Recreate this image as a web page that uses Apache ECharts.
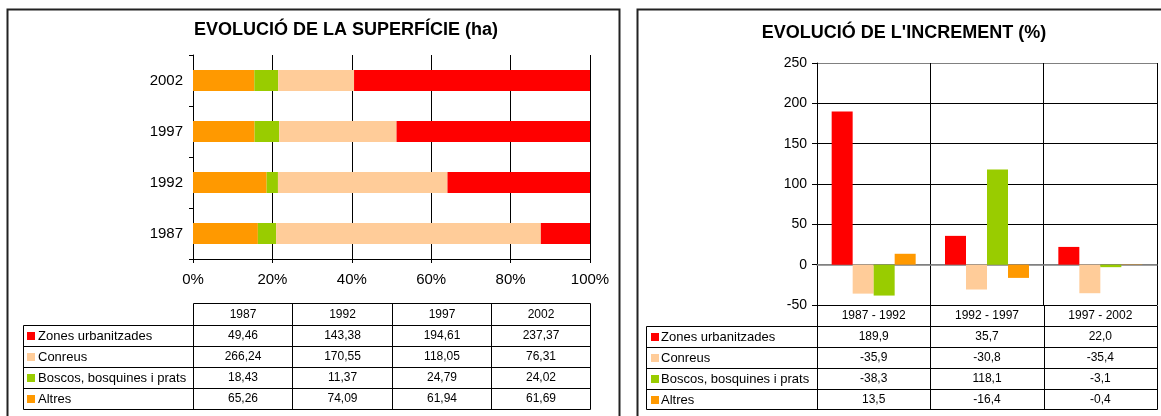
<!DOCTYPE html>
<html><head><meta charset="utf-8">
<script src="https://cdn.jsdelivr.net/npm/echarts@6/dist/echarts.min.js"></script>
<style>html,body{margin:0;padding:0;background:#fff}#c{width:1161px;height:416px}</style>
</head><body><div id="c"></div>
<script>
const years = ['1987', '1992', '1997', '2002'];
const periods = ['1987 - 1992', '1992 - 1997', '1997 - 2002'];
const seriesNames = ['Zones urbanitzades', 'Conreus', 'Boscos, bosquines i prats', 'Altres'];
const colors = ['#FF0000', '#FFCC99', '#99CC00', '#FF9900'];
const zones = [49.46, 143.38, 194.61, 237.37];
const conreus = [266.24, 170.55, 118.05, 76.31];
const boscos = [18.43, 11.37, 24.79, 24.02];
const altres = [65.26, 74.09, 61.94, 61.69];
const incZones = [189.9, 35.7, 22.0];
const incConreus = [-35.9, -30.8, -35.4];
const incBoscos = [-38.3, 118.1, -3.1];
const incAltres = [13.5, -16.4, -0.4];
const titleLeft = 'EVOLUCIÓ DE LA SUPERFÍCIE (ha)';
const titleRight = "EVOLUCIÓ DE L'INCREMENT (%)";

const FONT = '"Liberation Sans", Arial, sans-serif';
const fmt2 = v => v.toFixed(2).replace('.', ',');
const fmt1 = v => v.toFixed(1).replace('.', ',');
const areaRows = [zones, conreus, boscos, altres];
const incRows = [incZones, incConreus, incBoscos, incAltres];
const totals = years.map((_, i) => zones[i] + conreus[i] + boscos[i] + altres[i]);
const pct = arr => arr.map((v, i) => v / totals[i] * 100);

const chart = echarts.init(document.getElementById('c'));
const stackOrder = [3, 2, 1, 0];
const leftSeries = stackOrder.map(k => ({
  type: 'bar', name: seriesNames[k], xAxisIndex: 0, yAxisIndex: 0, stack: 's',
  data: pct(areaRows[k]), barWidth: 21, itemStyle: { color: colors[k] }
}));
const rightSeries = [0, 1, 2, 3].map(k => ({
  type: 'bar', name: seriesNames[k] + ' ', xAxisIndex: 1, yAxisIndex: 1,
  data: incRows[k], barWidth: 21, barGap: '0%', itemStyle: { color: colors[k] }
}));

const option = {
  animation: false,
  textStyle: { fontFamily: FONT },
  grid: [
    { left: 193, top: 55, width: 397, height: 204 },
    { left: 817, top: 63, width: 340, height: 242 }
  ],
  xAxis: [
    { gridIndex: 0, type: 'value', min: 0, max: 100, interval: 20,
      axisLabel: { formatter: '{value}%', color: '#000', fontSize: 15, margin: 13, fontFamily: FONT },
      axisLine: { show: true, lineStyle: { color: '#000' } },
      axisTick: { show: true, length: 4, lineStyle: { color: '#000' } },
      splitLine: { show: true, lineStyle: { color: '#000', width: 1 } } },
    { gridIndex: 1, type: 'category', data: periods,
      axisLine: { show: true, onZero: true, lineStyle: { color: '#808080', width: 1.5 } },
      axisTick: { show: false }, axisLabel: { show: false },
      splitLine: { show: true, lineStyle: { color: '#000' } } }
  ],
  yAxis: [
    { gridIndex: 0, type: 'category', data: years,
      axisLine: { show: true, lineStyle: { color: '#000' } },
      axisTick: { show: true, length: 4, lineStyle: { color: '#000' } },
      axisLabel: { color: '#000', fontSize: 15, margin: 10, fontFamily: FONT } },
    { gridIndex: 1, type: 'value', min: -50, max: 250, interval: 50,
      axisLine: { show: true, lineStyle: { color: '#000' } },
      axisTick: { show: true, length: 5, lineStyle: { color: '#000' } },
      axisLabel: { color: '#000', fontSize: 14, margin: 10, fontFamily: FONT },
      splitLine: { show: true, lineStyle: { color: ['#000', '#808080', '#000', '#000', '#000', '#000', '#808080'] } } }
  ],
  series: [...leftSeries, ...rightSeries]
};
chart.setOption(option);

const els = [];
const line = (x1, y1, x2, y2, color, w) => els.push({ type: 'line', silent: true, z: 10,
  shape: { x1, y1, x2, y2 }, style: { stroke: color || '#000', lineWidth: w || 1 } });
const text = (x, y, s, size, align, bold) => els.push({ type: 'text', silent: true, z: 10, x, y,
  style: { text: s, font: (bold ? 'bold ' : '') + size + 'px ' + FONT, fill: '#000',
    align: align, textAlign: align, verticalAlign: 'middle', textVerticalAlign: 'middle' } });
const square = (x, y, c) => els.push({ type: 'rect', silent: true, z: 10,
  shape: { x, y, width: 8, height: 8 }, style: { fill: c } });

// panel borders
els.push({ type: 'rect', silent: true, z: 0, shape: { x: 7.5, y: 9.5, width: 612, height: 430 },
  style: { fill: 'none', stroke: '#222', lineWidth: 2 } });
els.push({ type: 'rect', silent: true, z: 0, shape: { x: 637.5, y: 9.5, width: 560, height: 430 },
  style: { fill: 'none', stroke: '#222', lineWidth: 2 } });

// titles
text(346, 30, titleLeft, 18, 'center', true);
text(904, 33, titleRight, 18, 'center', true);

// left table
{
  const xs = [0, 25, 50, 75, 100].map(v => Math.round(chart.convertToPixel({ xAxisIndex: 0 }, v)) + 0.5);
  const labelX = 23.5;
  const ys = [303.5, 325.5, 346.5, 367.5, 388.5, 409.5];
  line(xs[0], ys[0], xs[4], ys[0]);
  xs.forEach(x => line(x, ys[0], x, ys[5]));
  line(labelX, ys[1], labelX, ys[5]);
  for (let r = 1; r < 6; r++) line(labelX, ys[r], xs[4], ys[r]);
  years.forEach((y, c) => text((xs[c] + xs[c + 1]) / 2, (ys[0] + ys[1]) / 2, y, 12, 'center'));
  areaRows.forEach((row, r) => {
    const cy = (ys[r + 1] + ys[r + 2]) / 2;
    square(27, Math.round(cy - 4), colors[r]);
    text(38, cy + 0.5, seriesNames[r], 13, 'left');
    row.forEach((v, c) => text((xs[c] + xs[c + 1]) / 2, cy, fmt2(v), 12, 'center'));
  });
}
// right table
{
  const c0 = chart.convertToPixel({ xAxisIndex: 1 }, periods[0]);
  const c1 = chart.convertToPixel({ xAxisIndex: 1 }, periods[1]);
  const bw = c1 - c0;
  const centers = periods.map(p => chart.convertToPixel({ xAxisIndex: 1 }, p));
  const xs = [centers[0] - bw / 2, centers[0] + bw / 2, centers[1] + bw / 2, centers[2] + bw / 2].map(x => Math.round(x) + 0.5);
  const top = Math.round(chart.convertToPixel({ yAxisIndex: 1 }, -50)) + 0.5;
  const labelX = 646.5;
  const ys = [top, top + 21, top + 42, top + 63, top + 84, top + 104];
  xs.forEach(x => line(x, ys[0], x, ys[5]));
  line(labelX, ys[1], labelX, ys[5]);
  for (let r = 1; r < 6; r++) line(labelX, ys[r], xs[3], ys[r]);
  periods.forEach((p, c) => text(centers[c], (ys[0] + ys[1]) / 2, p, 12, 'center'));
  incRows.forEach((row, r) => {
    const cy = (ys[r + 1] + ys[r + 2]) / 2;
    square(651, Math.round(cy - 4), colors[r]);
    text(661, cy + 0.5, seriesNames[r], 13, 'left');
    row.forEach((v, c) => text(centers[c], cy, fmt1(v), 12, 'center'));
  });
}
chart.setOption({ graphic: { elements: els } });
</script>
</body></html>
